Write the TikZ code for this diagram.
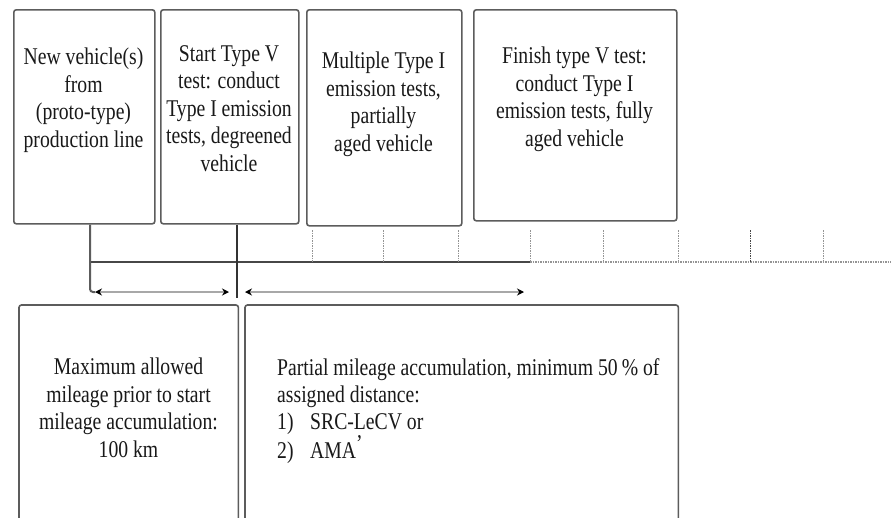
\documentclass[tikz,border=0pt]{standalone}
\usepackage{fontspec}
\setmainfont{Liberation Serif}[FakeStretch=0.82]
\usetikzlibrary{arrows.meta}
\definecolor{frame}{gray}{0.36}
\definecolor{axis}{gray}{0.28}
\definecolor{tick}{gray}{0.58}
\definecolor{span}{gray}{0.66}
\definecolor{ink}{gray}{0.10}
\tikzset{
  boxframe/.style={draw=frame, line width=1.6pt, rounded corners=2.5pt, inner sep=0pt},
  openframe/.style={draw=frame, line width=1.6pt, rounded corners=2.5pt},
  boxarea/.style={draw=none, inner sep=0pt, anchor=north west},
  boxtext/.style={font=\fontsize{24}{27.5}\selectfont, align=center, inner sep=0pt, text=ink, anchor=north},
  lefttext/.style={font=\fontsize{24}{27}\selectfont, align=left, inner sep=0pt, text=ink, anchor=north west},
  mainaxis/.style={draw=axis, line width=2.2pt},
  restaxis/.style={draw=tick, line width=1.8pt, dash pattern=on 1.5pt off 1pt},
  ticky/.style={draw=tick, line width=1pt, dash pattern=on 1.5pt off 1pt},
  feed/.style={draw=frame, line width=2pt, rounded corners=3pt},
  startline/.style={draw=black!80, line width=2.8pt},
  spanarrow/.style={draw=span, line width=1.8pt, {Stealth[length=7pt,width=7pt,black]}-{Stealth[length=7pt,width=7pt,black]}}
}
\begin{document}
\begin{tikzpicture}[x=1pt,y=-1pt]
\useasboundingbox[fill=white] (0,0) rectangle (891,517);

% top boxes
\node[boxframe, anchor=north west, minimum width=141pt, minimum height=214pt] (b1) at (13,9) {};
\node[boxframe, anchor=north west, minimum width=138pt, minimum height=214pt] (b2) at (160,9) {};
\node[boxframe, anchor=north west, minimum width=155pt, minimum height=216pt] (b3) at (306,9) {};
\node[boxframe, anchor=north west, minimum width=203pt, minimum height=211pt] (b4) at (473,9) {};

\node[boxtext] (t1) at (83.5,48) {New vehicle(s)\\from\\(proto-type)\\production line};
\node[boxtext] (t2) at (229,45) {Start Type V\\test: conduct\\Type I emission\\tests, degreened\\vehicle};
\node[boxtext] (t3) at (383.5,52) {Multiple Type I\\emission tests,\\partially\\aged vehicle};
\node[boxtext] (t4) at (574.5,47) {Finish type V test:\\conduct Type I\\emission tests, fully\\aged vehicle};

% lower boxes (open at the bottom)
\node[boxarea, minimum width=219pt, minimum height=215pt] (b5) at (19,305) {};
\node[boxarea, minimum width=433pt, minimum height=215pt] (b6) at (245,305) {};
\draw[openframe] (b5.south west) -- (b5.north west) -- (b5.north east) -- (b5.south east);
\draw[openframe] (b6.south west) -- (b6.north west) -- (b6.north east) -- (b6.south east);

\node[boxtext] (t5) at (128.5,358) {Maximum allowed\\mileage prior to start\\mileage accumulation:\\100 km};
\node[lefttext] (t6) at (277,358) {Partial mileage accumulation, minimum 50\,\% of\\assigned distance:\\\makebox[33pt][l]{1)}SRC-LeCV or\\\makebox[33pt][l]{2)}AMA\raisebox{0.3em}{’}};

% timeline
\coordinate (ax0) at (90,262);
\coordinate (ax1) at (530,262);
\coordinate (ax2) at (891,262);
\draw[restaxis] (ax1) -- (ax2);
\draw[mainaxis] (ax0) -- (ax1);

\foreach \x/\c in {312/tick,383/tick,458/tick,530/tick,603/tick,678/tick,750/axis,823/tick}{
  \coordinate (tk\x) at (\x,230);
  \draw[ticky, draw=\c] (tk\x) -- (tk\x |- ax0);
}

% span arrows
\coordinate (a1) at (95,292);
\coordinate (a2) at (229,292);
\coordinate (a3) at (245,292);
\coordinate (a4) at (524,292);
\draw[spanarrow] (a1) -- (a2);
\draw[spanarrow] (a3) -- (a4);

% feed from first box
\coordinate (fx) at (90,292);
\draw[feed] (b1.south -| fx) -- (fx) -- (a1);

% start of type V test
\coordinate (sx) at (237,298);
\draw[startline] (b2.south -| sx) -- (sx);
\end{tikzpicture}
\end{document}
